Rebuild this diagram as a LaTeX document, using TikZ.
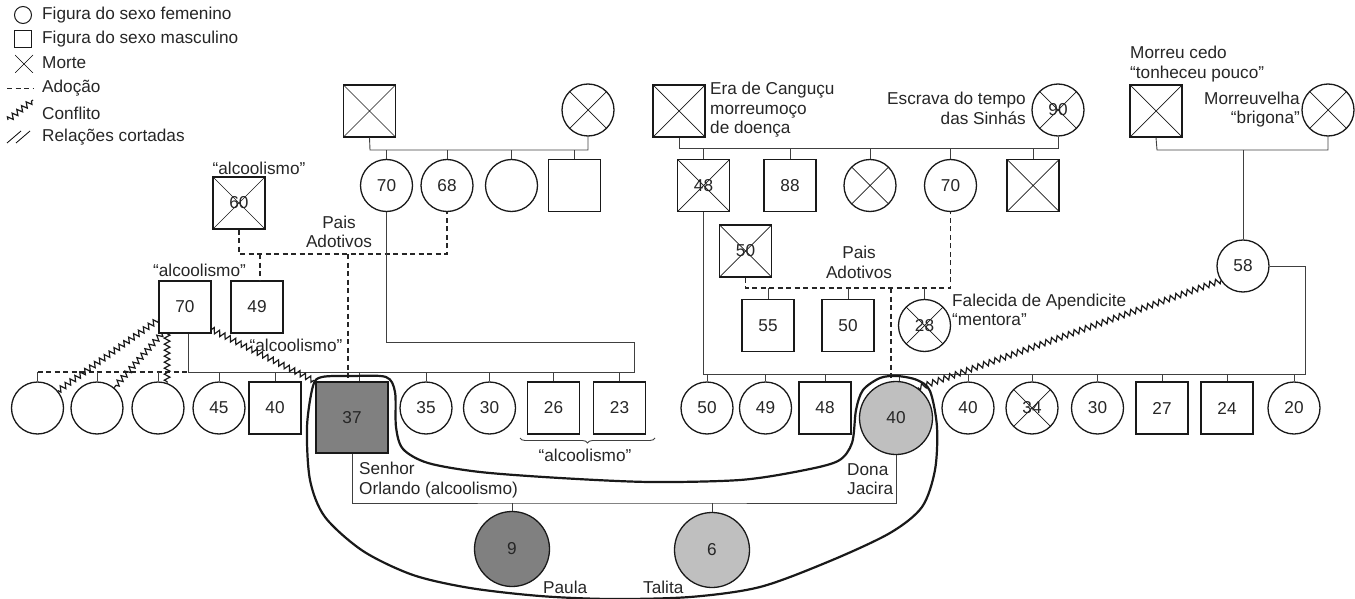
\documentclass[tikz,border=0pt]{standalone}
\usepackage{fontspec}
\setmainfont{Liberation Sans}
\usetikzlibrary{calc,decorations.pathmorphing,decorations.pathreplacing}
\begin{document}
\begin{tikzpicture}[x=1pt, y=-1pt,
  every node/.style={font=\fontsize{17.2}{19.5}\selectfont, text=black!85},
  fem/.style={shape=circle, draw=black!90, line width=1.3pt, minimum size=52pt, inner sep=0pt},
  mas/.style={shape=rectangle, draw=black!90, line width=1.3pt, minimum size=52pt, inner sep=0pt},
  morto/.style={path picture={\draw[line width=0.7pt] (path picture bounding box.north west) -- (path picture bounding box.south east) (path picture bounding box.north east) -- (path picture bounding box.south west);}},
  lig/.style={draw=black!75, line width=0.9pt},
  adoc/.style={draw=black!85, line width=1.2pt, dash pattern=on 5pt off 3.5pt},
  conf/.style={draw=black!90, line width=1.2pt, decorate, decoration={zigzag, segment length=6pt, amplitude=2.8pt}},
  rot/.style={inner sep=0pt, align=left}]
\useasboundingbox (0,0) rectangle (1355,599);
% legenda
\node[fem, minimum size=17pt, line width=1pt] (lgf) at (23,15) {};
\node[mas, minimum size=17pt, line width=1pt] (lgm) at (23,39.5) {};
\node[minimum size=18pt, inner sep=0pt, morto] (lgx) at (24,64) {};
\coordinate (lga) at (7,89);
\coordinate (lgb) at (33,89);
\draw[adoc, line width=1pt] (lga) -- (lgb);
\coordinate (lgc) at (8,120);
\coordinate (lgd) at (33,100);
\draw[conf] (lgc) -- (lgd);
\draw[line width=0.8pt] (7,143) -- (21,131) (16,143) -- (30,131);
\node[rot, anchor=west] (lt1) at (42,15) {Figura do sexo femenino};
\node[rot, anchor=west] (lt2) at (42,39) {Figura do sexo masculino};
\node[rot, anchor=west] (lt3) at (42,63) {Morte};
\node[rot, anchor=west] (lt4) at (42,88) {Adoção};
\node[rot, anchor=west] (lt5) at (42,113) {Conflito};
\node[rot, anchor=west] (lt6) at (42,137) {Relações cortadas};
% avos maternos do Orlando
\node[mas, morto] (avo1) at (369.5,111) {};
\node[fem, morto] (avo2) at (588,110) {};
\node[fem] (f70) at (386.5,185.5) {70};
\node[fem] (f68) at (447,185.5) {68};
\node[fem] (fsn) at (511.5,185.5) {};
\node[mas] (msn) at (574.5,185.5) {};
\coordinate (ca) at (370,150);
\draw[lig] (avo1.south) -- (ca) -| (avo2.south);
\foreach \n in {f70,f68,fsn,msn} \draw[lig] (\n.north) -- (\n.north |- ca);
% adocao esquerda
\node[mas, morto] (m60) at (239,203) {60};
\node[mas] (m49) at (257,307) {49};
\node[mas] (m70) at (185,307) {70};
\coordinate (adl) at (239,254);
\draw[adoc] (m60.south) -- (adl) -| (f68.south);
\coordinate (ad49) at (260,254);
\draw[adoc] (ad49) -- (ad49 |- m49.north);
% irmaos do Orlando
\node[fem] (c1) at (37.5,408) {};
\node[fem] (c2) at (97,408) {};
\node[fem] (c3) at (158,408) {};
\node[fem] (f45) at (219,408) {45};
\node[mas] (m40) at (275,408) {40};
\node[mas, minimum width=72pt, minimum height=71pt, fill=black!50] (o37) at (352,417.5) {37};
\node[fem] (f35) at (426,408) {35};
\node[fem] (f30) at (489.5,408) {30};
\node[mas] (m26) at (553.5,408) {26};
\node[mas] (m23) at (619.5,408) {23};
\coordinate (ls) at (188,372);
\coordinate (lr) at (634,372);
\coordinate (lm) at (634,342);
\draw[adoc] (c1.north |- ls) -- (ls);
\draw[lig] (m70.south -| ls) -- (ls) -- (lr) -- (lm) -| (f70.south);
\foreach \n in {c1,c2,c3,f45,m40,f35,f30,m26,m23} \draw[lig] (\n.north) -- (\n.north |- ls);
\coordinate (d37) at (359,372);
\draw[lig] (d37) -- (d37 |- o37.north);
\coordinate (ad37) at (348,254);
\draw[adoc] (ad37) -- (ad37 |- o37.north);
% avos da Jacira
\node[mas, morto] (avo3) at (679,111) {};
\node[fem, morto] (avo4) at (1058,110) {90};
\node[mas, morto] (m48x) at (703.5,185.5) {48};
\node[mas] (m88) at (790,185.5) {88};
\node[fem, morto] (fx) at (870,185.5) {};
\node[fem] (f70r) at (950.5,185.5) {70};
\node[mas, morto] (mx) at (1033,185.5) {};
\coordinate (cb) at (679,148);
\draw[lig] (avo3.south) -- (cb) -| (avo4.south);
\foreach \n in {m48x,m88,fx,f70r,mx} \draw[lig] (\n.north) -- (\n.north |- cb);
\node[mas, morto] (avo5) at (1156,111) {};
\node[fem, morto] (avo6) at (1328,110) {};
\node[fem] (f58) at (1243,266) {58};
\coordinate (cc) at (1157,150);
\draw[lig] (avo5.south) -- (cc) -| (avo6.south);
\draw[lig] (f58.north) -- (f58.north |- cc);
% adocao direita
\node[mas, morto] (m50x) at (745.5,251) {50};
\node[mas] (m55) at (768,325.5) {55};
\node[mas] (m50) at (848,325.5) {50};
\node[fem, morto] (f28) at (924.5,325.5) {28};
\coordinate (adr) at (745.5,288);
\draw[adoc] (m50x.south) -- (adr) -| (f70r.south);
\foreach \n in {m55,m50,f28} \draw[lig] (\n.north) -- (\n.north |- adr);
% irmaos da Jacira
\node[fem] (f50) at (707,408) {50};
\node[fem] (f49) at (765.5,408) {49};
\node[mas] (m48) at (825,408) {48};
\node[fem, minimum size=73pt, fill=black!25] (o40) at (896,418) {40};
\node[fem] (f40) at (968,408) {40};
\node[fem, morto] (f34) at (1032,408) {34};
\node[fem] (f30r) at (1097.5,408) {30};
\node[mas] (m27) at (1162,408) {27};
\node[mas] (m24) at (1227,408) {24};
\node[fem] (f20) at (1294,408) {20};
\coordinate (rs) at (703.5,374);
\coordinate (rr) at (1305,374);
\draw[lig] (m48x.south) -- (rs) -- (rr) |- (f58.east);
\foreach \n in {f50,f49,m48,f40,f34,f30r,m27,m24,f20} \draw[lig] (\n.north) -- (\n.north |- rs);
\coordinate (d40) at (899,374);
\draw[lig] (d40) -- (d40 |- o40.north);
\coordinate (ad40) at (891,288);
\draw[adoc] (ad40) -- (ad40 |- o40.north);
% casal e filhas
\node[fem, minimum size=75pt, fill=black!50] (p9) at (512,549) {9};
\node[fem, minimum size=75pt, fill=black!25] (t6) at (712,550) {6};
\coordinate (cp) at (600,503);
\draw[lig] (o37.south) |- (cp) -| (o40.south);
\draw[lig] (p9.north) -- (p9.north |- cp);
\draw[lig] (t6.north) -- (t6.north |- cp);
% conflitos
\draw[conf] (m70.205) -- (c1.40);
\draw[conf] (m70.229) -- (c2.50);
\draw[conf] (c3.70 |- m70.south) -- (c3.70);
\draw[conf] (m70.-40) -- (o37.north west);
\draw[conf] (f58.213) -- (o40.54);
% familia nuclear
\draw[line width=2.2pt, black!90] plot[smooth cycle, tension=0.5] coordinates {(313,386) (322,377) (352,376) (386,377) (395,392) (396,427) (403,449) (428,463) (480,472) (560,478) (650,482) (740,480) (800,471) (838,461) (852,443) (856,410) (863,390) (880,378) (897,376) (917,380) (930,391) (937,427) (935,470) (922,507) (890,533) (830,561) (760,587) (690,597) (610,599) (540,596) (470,588) (413,575) (363,551) (325,517) (310,480) (307,427)};
\coordinate (bra) at (520,438);
\coordinate (brb) at (655,438);
\draw[lig, decorate, decoration={brace, mirror, amplitude=5pt}] (bra) -- (brb);
% textos
\node[rot] (tx1) at (259,168) {“alcoolismo”};
\node[rot] (tx2) at (199.5,270) {“alcoolismo”};
\node[rot] (tx3) at (296,345) {“alcoolismo”};
\node[rot, align=center] (tx4) at (339,232) {Pais\\Adotivos};
\node[rot] (tx5) at (585,455) {“alcoolismo”};
\node[rot, anchor=west] (tx6) at (359,480) {Senhor\\Orlando (alcoolismo)};
\node[rot, anchor=west] (tx7) at (847,479) {Dona\\Jacira};
\node[rot, anchor=west] (tx8) at (543,587) {Paula};
\node[rot, anchor=west] (tx9) at (643,587) {Talita};
\node[rot, anchor=west] (tx10) at (710,110) {Era de Canguçu\\morreumoço\\de doença};
\node[rot, anchor=east, align=right] (tx11) at (1026,108.5) {Escrava do tempo\\das Sinhás};
\node[rot, align=center] (tx12) at (859,262.5) {Pais\\Adotivos};
\node[rot, anchor=west] (tx13) at (952,310) {Falecida de Apendicite\\“mentora”};
\node[rot, anchor=west] (tx14) at (1130,64) {Morreu cedo\\“tonheceu pouco”};
\node[rot, anchor=east, align=right] (tx15) at (1300,109.5) {Morreuvelha\\“brigona”};
\end{tikzpicture}
\end{document}
